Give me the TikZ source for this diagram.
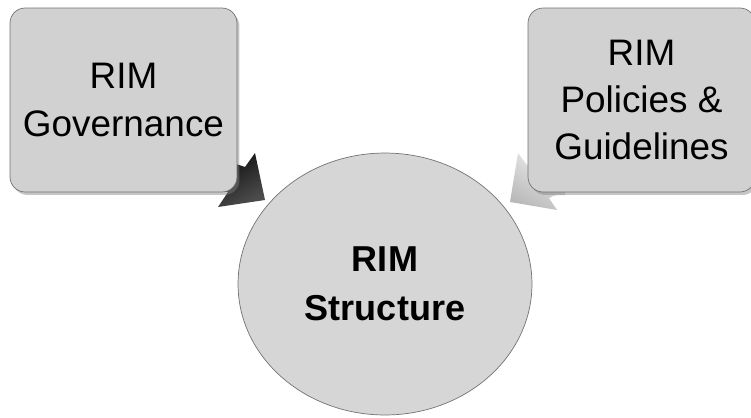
\documentclass[tikz,border=0pt]{standalone}
\usepackage{fontspec}
\setmainfont{Liberation Sans}
\usepackage{tikz}
\usetikzlibrary{positioning, shapes, shadows}
\definecolor{boxgray}{gray}{0.82}
\definecolor{circgray}{gray}{0.84}
\definecolor{edgegray}{gray}{0.45}

\begin{document}
\begin{tikzpicture}[x=0.02cm, y=-0.02cm,
	topbox/.style={draw=edgegray, fill=boxgray, rounded corners=0.3cm,
		minimum width=4.54cm, minimum height=3.68cm, align=center,
		inner sep=0pt, font=\fontsize{21}{27}\selectfont,
		drop shadow={shadow xshift=0.05cm, shadow yshift=-0.06cm, opacity=0.45}},
	centre/.style={ellipse, draw=edgegray, fill=circgray,
		minimum width=5.88cm, minimum height=5.24cm, align=center,
		inner sep=0pt, font=\fontsize{20.5}{28}\selectfont\bfseries}]

\useasboundingbox (0,0) rectangle (751,417);

% arrows, behind the boxes
\shade[left color=black, right color=black!70, shading angle=30]
	(185,160) .. controls (225,160) .. (245,167) -- (255,153) -- (265,200)
	-- (218,207) -- (228,192) .. controls (215,190) .. (185,190) -- cycle;
\shade[left color=gray!15, right color=gray!55, shading angle=-30]
	(565,160) .. controls (540,160) .. (527,165) -- (518,153) -- (510,202)
	-- (557,210) -- (549,198) .. controls (555,195) .. (565,195) -- cycle;

% boxes
\node[topbox] (gov) at (123.5,100) {RIM\\Governance};
\node[topbox] (pol) at (641.5,100) {RIM\\Policies \&\\Guidelines};

% centre
\node[centre] (struct) at (385,284) {RIM\\Structure};

\end{tikzpicture}
\end{document}
